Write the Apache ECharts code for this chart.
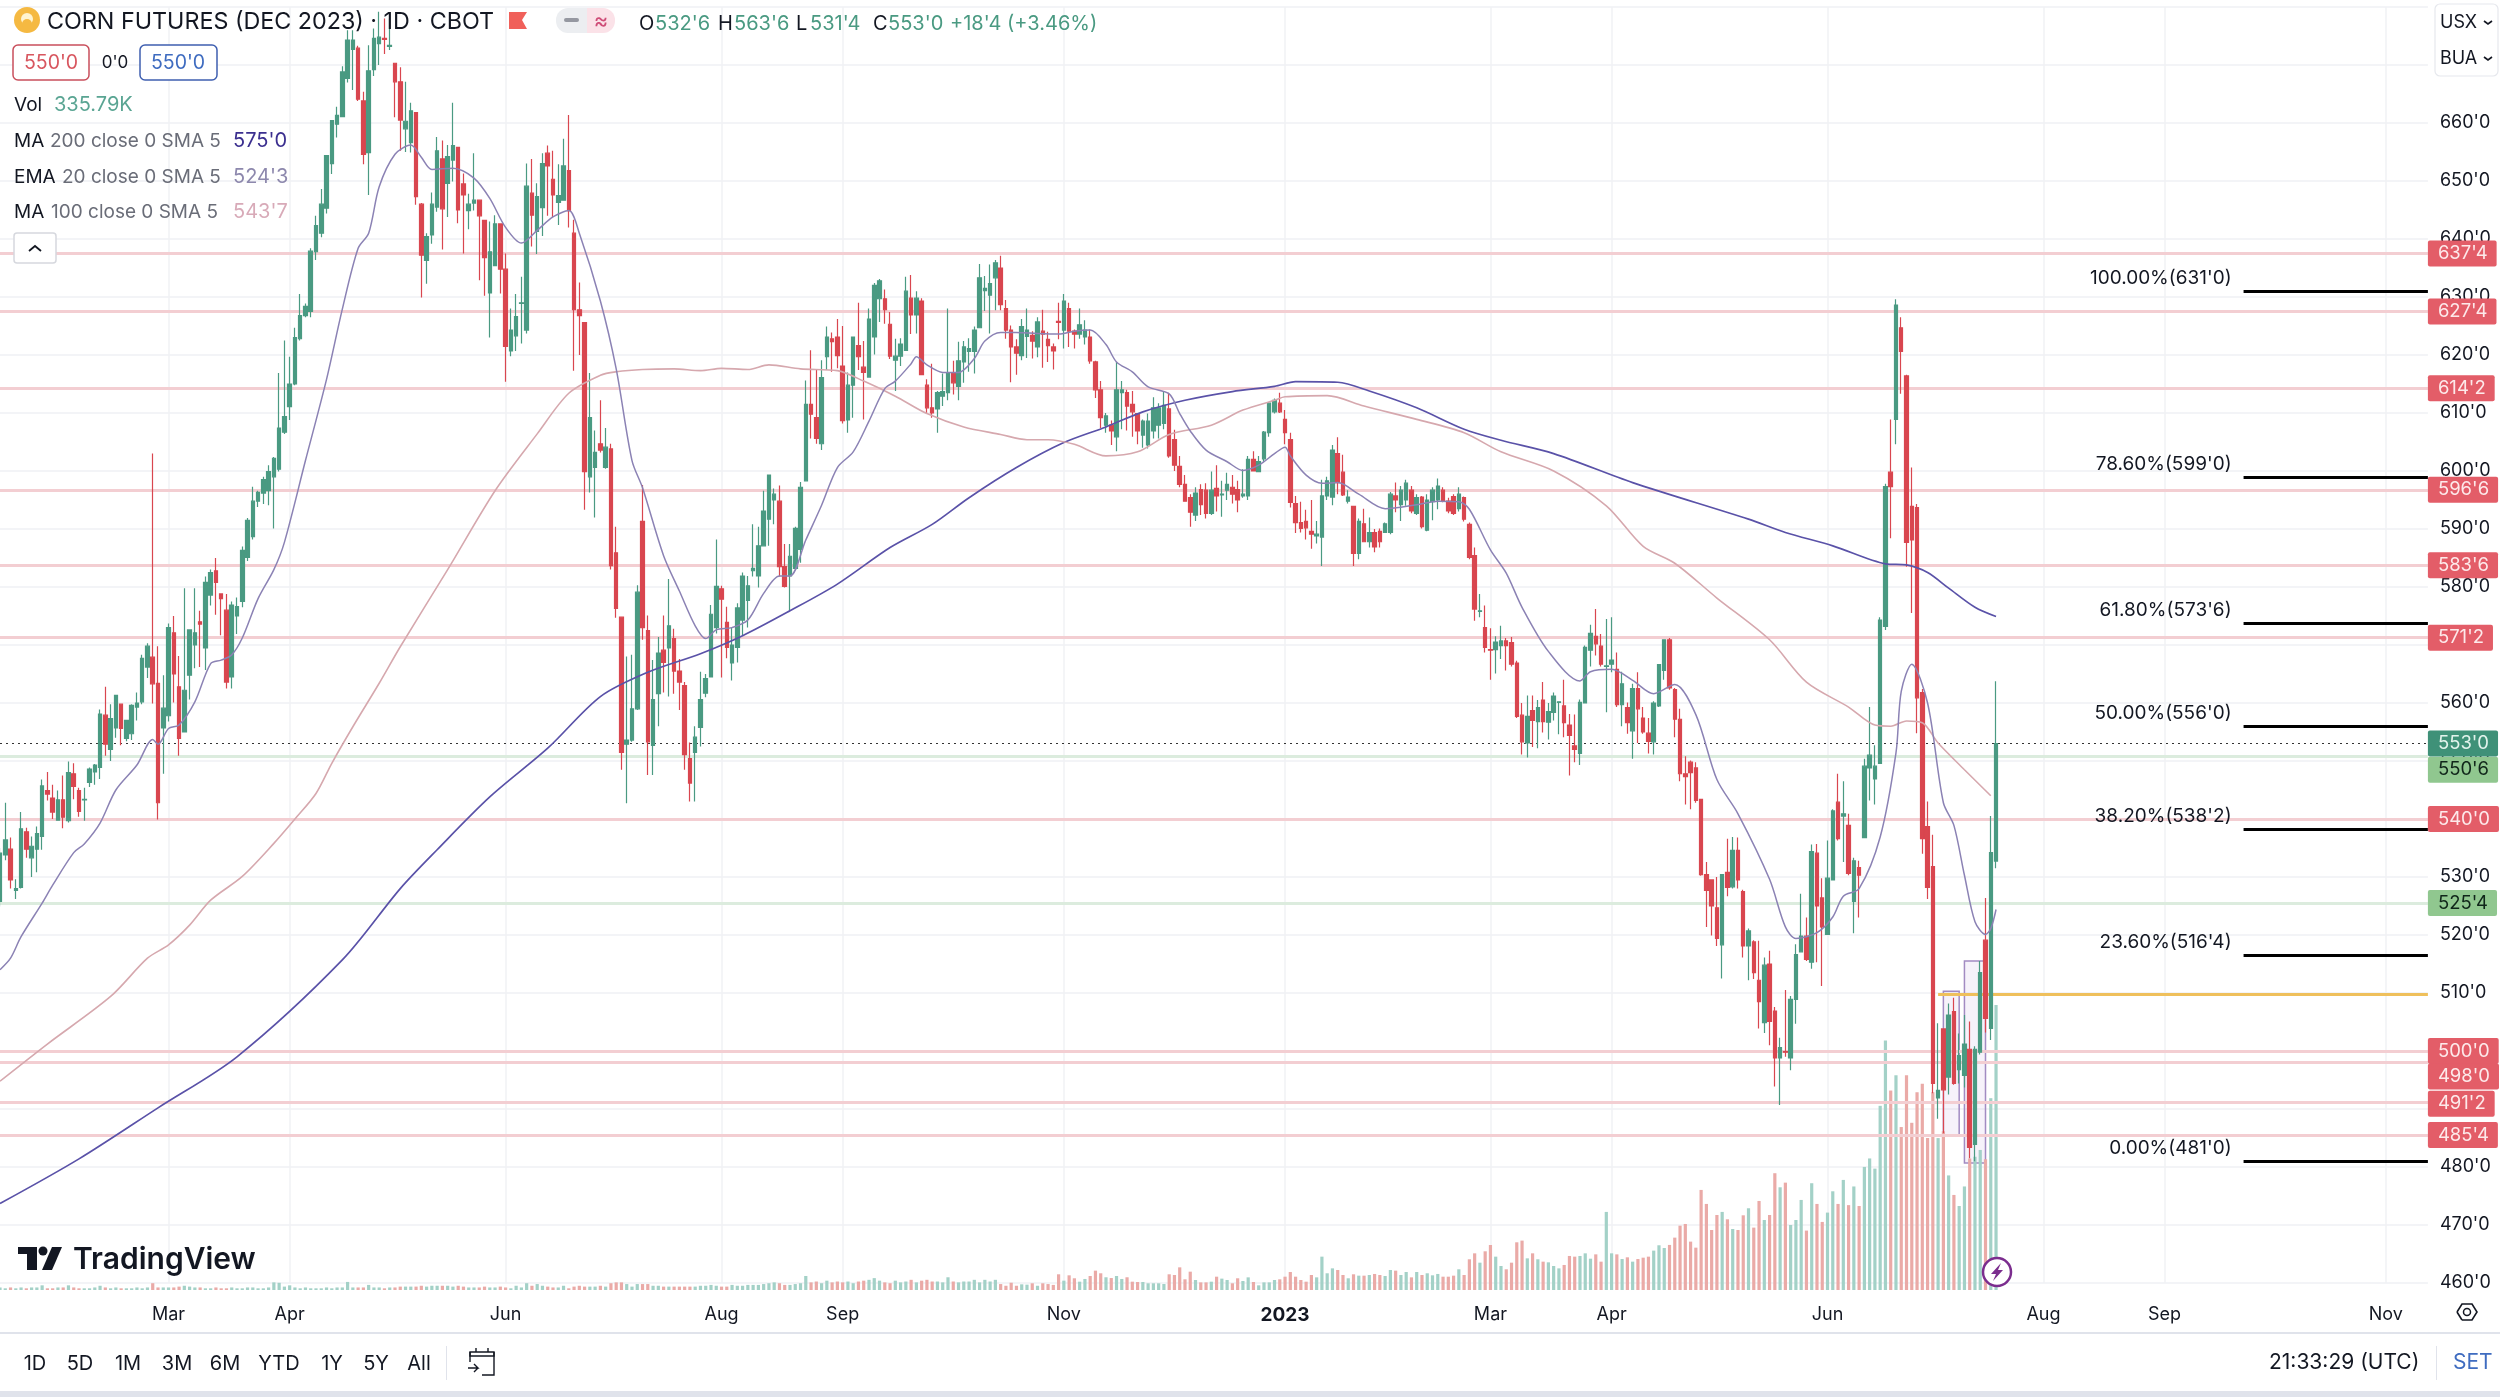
<!DOCTYPE html>
<html><head><meta charset="utf-8"><title>Corn Futures</title>
<style>html,body{margin:0;padding:0;background:#fff}#c{width:2500px;height:1397px}</style>
<script src="https://cdn.jsdelivr.net/npm/echarts@6/dist/echarts.min.js"></script>
</head><body><div id="c"></div>
<script>
const opens=[
525.8,533.8,534.8,527.7,528.2,537.8,533.3,534.8,537,544.9,
543.6,539.8,543.3,539.7,547.8,544.9,543.3,546.3,548.1,548.9,
557.9,552,555.7,559.8,553.9,554.7,559.3,560.2,566.2,567.9,
563.4,555.7,557.8,572.1,562.8,555,564.8,570,574,569.5,
578.6,582.8,578.8,576,564.5,575,577.5,585.1,588.7,594.8,
596.2,596.6,599,600.3,606.7,611.1,615,622.8,626.8,627.5,
637.8,641,645.3,653,659.8,661.1,667.7,672.7,672.9,663.8,
654.9,669.2,673.7,674.6,673.2,670.3,667.1,659,656.6,661.8,
646,636.3,640.7,645.5,653.8,649.6,653.6,655.8,649.5,644.9,
646.2,646.7,643.2,630.7,635.4,642.6,634.8,620.7,623.3,628.9,
624.3,647.9,641.3,645.4,654.8,650.3,646.3,646.7,651.8,641,
627.8,625.6,599,600.6,604.7,600.6,603.8,585.9,574.8,552.9,
553.6,559,591.3,572.5,552.7,561.6,569.1,569.5,571.1,565.5,
563,550.4,551.5,555.8,561.7,564.5,573,579.7,573.9,566.9,
569.6,574.3,577.7,582.8,581.9,587.1,591.7,595,594.8,583.5,
581.9,583.2,586.5,598.3,611.5,609.2,604.7,619.7,622.8,623.1,
618.1,608.8,614.8,621.6,617.9,616.2,623.1,629.7,629.7,625.3,
619.1,619.8,620.8,629.8,626.9,629.3,614.8,610.9,610.7,612.9,
613.5,616.8,614.6,618.8,620.6,620.6,624.7,631.1,630.3,633.3,
635,628,624.3,621.4,619.9,623.2,623.4,621.4,624.1,622.7,
621.4,625.8,624.3,628,624.1,623.6,623.1,623.1,618.8,614,
607.9,607.9,605.9,613.5,613.5,611.5,609.9,606.2,604.5,606.9,
607.9,608.2,610.7,605.4,600.8,597.7,595.4,592.4,596.8,596.7,
592.7,597,595.9,596.7,597.2,596.8,595.7,595.7,602,599.9,
602.1,606.6,610.2,611.7,608.9,605.4,594.4,591.1,591.3,589.6,
588.8,588.6,595.7,595.5,603,599.8,594.8,593.9,585.8,590.9,
587.8,589.4,589.6,589.4,589.4,595.7,594.2,595,596.7,592.7,
595.5,589.8,594.7,595,596.7,594.8,595.6,593.5,595.4,590.8,
585.4,575.8,573,569.2,569.2,569.9,570.7,570.4,566.9,557.9,
553.1,558.7,556.8,560.5,556.7,558.4,560.1,559.5,556.2,552.6,
551.3,560,569.1,571.5,569.8,566.3,566.7,565.8,559.7,559.2,
555.2,562.5,557.4,554.8,553.3,559.5,565.6,570.9,562.3,557.2,
547.8,549.8,548.8,543.4,530.4,529.5,524.7,518.3,530.8,528.3,
534.6,527.5,518.1,518.8,512.2,504.9,515,506.9,498.8,499.9,
498.8,508.9,517.1,519.8,515.3,534.1,526.4,520.1,529.5,542.9,
540.5,538.9,525.8,531.6,536.8,548.8,546.9,549.6,573.2,599.8,
608.9,624.7,616.4,593.9,593.7,561.8,538.7,531.8,491.9,503.8,
495.5,506.8,496.8,495.8,500.3,483.9,499.8,519.1,503.9,532.75];
const closes=[
534.1,536.4,529.5,528,538.3,534.8,535.3,537.5,545.7,544.3,
541.2,543.3,540.3,548,545.6,541.3,543.4,548.6,549.3,558.1,
552.9,557.3,561.3,555.6,557,559.6,560,567.7,569.8,563.3,
542.8,559.1,573,565,553.9,562.2,572.6,572.1,573.6,580.8,
582.5,580.8,578,563.6,576.9,576.6,586.3,591.5,594.8,596.3,
598.5,599.9,602.2,607.4,609.4,615,623,626.8,628.4,637.9,
642.3,646,654.4,660.4,661.3,668.8,674.3,674.3,664.1,654.6,
669,674.6,674.8,674.4,673.4,667.1,660.5,660.3,662.1,647.3,
637.2,640.4,646,655.2,645.2,654.2,656.1,645,647.6,646,
646.7,644,636.8,637.8,642.6,634.8,621.5,624.3,626.6,629,
649.1,644.1,647.3,653,652.6,647.6,647.5,652.6,644.9,627.8,
626.8,599.9,609.2,603.2,603.6,604.1,583.7,576.3,551.5,553.6,
559,579.1,573,553.3,560.6,568.6,567,573.3,565.5,563.6,
551.1,546.2,554.1,560.6,564.2,575.3,580.1,577.9,569.6,570,
576.4,581.9,580.2,583.2,587.1,593.1,599.3,596,583.5,580.1,
585.3,590.1,597.2,611.5,609.8,605.6,616.1,623.1,622.3,619.9,
608.7,614.8,623.1,619.7,617,626.2,632,632.8,627.8,619.8,
619.8,621.9,631,626.9,629.8,616.6,610.9,610,613.5,613.7,
616.8,615.2,619,621.4,621.1,624.3,633.3,631.5,632.3,635.9,
628.7,624.3,621.4,620.3,624.9,624.3,622.4,625.7,623.6,621.6,
620.7,625.6,629.3,624.1,623.6,625.2,624.3,619,614,609.2,
609.5,606.9,614,614,611.2,610.2,606.9,608.6,608.6,610.9,
610.9,611.3,602.6,601,597.7,594.8,592.9,596.2,594.2,592.7,
596.7,595.7,596,597.7,596,595,596,602,600,601.6,
606.7,611.7,612.2,610.2,606.6,594.6,591.1,590.1,590.2,589.1,
589.1,595.7,598.3,603.6,598,595.9,595.5,585.8,591.3,587.8,
589.4,586.9,587.8,590.9,596,595,596.7,597.9,593.1,595.4,
590.4,595,596.7,597.4,594.8,593.1,592.7,596,591.7,585.1,
576.2,575.9,569.6,569.1,570.5,570.7,569.9,566.7,557.7,553.3,
557.7,557,559.2,556.8,558.5,561.2,560.2,556.6,554.4,552,
560.1,569.6,572,570.2,566.7,566.4,567.4,559.7,563.3,556.6,
562.5,559,555,553.4,560,566.6,570.9,562.6,557.2,547.8,
547.3,548,543.2,530.4,527.7,525,519.4,530.4,528.2,534.6,
529.5,518.1,520.7,513.5,508.5,514.8,505.1,498.8,500.6,499.8,
508.9,516.6,519.8,515.8,534.4,525,521.4,529.8,541.4,536.6,
540.9,530.6,532.8,530.3,549.1,551,549.1,574.3,597.3,597.3,
628.6,620.6,587.7,588.1,560.9,536.6,528.2,494.4,493.2,493.3,
506.2,494.4,499.2,501.2,483.4,500.3,513.5,505.6,534.2,553];
const lows=[
524.9,532.9,528,526.2,528,533.3,530,530.8,534.7,543.2,
540,539.8,538.4,539.4,543.4,540.4,539.7,545.5,545.9,546.9,
550.9,550,554,552.7,553.4,553.6,557,559.8,564.3,559.9,
539.9,547.8,556.8,560.1,550.9,554.9,560.6,566,566.2,565.7,
576.8,575.2,571.7,562.5,562.5,571.9,576.5,584.5,588.2,593.8,
594.3,594.1,590.1,599.9,606.4,608.8,614.8,622.5,626.5,626.5,
636.4,640.3,644.4,651.2,657.5,661.1,667,665.7,663.8,652.9,
647.6,668.1,670,671.9,672.6,661,655.2,655,654.9,645.9,
629.9,632.3,639.2,644.7,638.2,643.8,649.9,642.7,637.5,641.7,
644.9,632.9,630.2,623,635.4,630.6,615.4,619.8,620.7,622,
623.7,638.7,637.4,640.5,644,643.8,642.4,646.6,642,617.3,
620,593.3,596.3,592,603.2,600.4,583,574.7,548.5,542.7,
553.3,558.8,570.9,547.6,547.6,556,561.8,561.1,561.6,558.8,
548.5,543,543,552.5,561,564.4,572,564.4,567.7,563.9,
567,571.6,573,581.8,579.9,587.1,587.1,590.8,581.8,579.9,
575.9,582.9,584.2,598.3,605.6,604.7,603.6,617.4,617.1,617.7,
608.2,606.6,609.2,617.4,608.9,616.2,620.1,625.7,625.4,619.3,
613.8,618.1,620.8,623.6,623.7,616.6,609.9,609.2,606.6,611.2,
612.2,613.2,612.2,615.2,617.1,616.8,624.7,627.6,623.7,627.7,
627.7,622.8,615.3,616.6,619.1,619.5,619.4,619.6,617.8,618.8,
617.5,622.7,621.1,621.4,621.1,622.8,621.8,618.5,612.6,607.4,
606.6,604.5,603.4,607.2,607,605.9,604.6,604,603.9,605.6,
605.6,607.2,602.3,600,597.2,594.7,590.4,591.4,592.4,591.8,
592.4,593,592.1,595,594.4,592.9,595.4,595,599.9,599.9,
601.6,605.9,609.9,610,604.6,593.7,589.3,589.4,588.2,586.6,
587.5,583.6,595,594.1,596,595.7,594.4,583.6,584.8,587.8,
586.8,586,586.8,589.3,589.1,592.9,591.4,594,592.7,592.4,
590.1,589.6,591.5,593.4,594.6,592.7,592.4,593,591.3,584.8,
574.2,574.8,568.7,564,565.1,567.6,565.6,566.3,557.4,551.1,
550.6,552.4,552.2,554.9,553.7,557,554.6,554.1,547.5,549.8,
549.3,560,566.3,568.2,566.3,558.4,565.3,559.3,556,554.7,
550.4,553.1,554.7,551.3,551.1,559.3,564,562.3,554.1,546.5,
542.5,541.7,542.8,530.2,521.4,519.9,518.1,512.5,526.7,528,
528,516.1,512.2,512.4,503.9,503.1,501,493.9,490.7,499,
496.7,504.7,517,515.5,514.2,515.3,511.2,520.1,529.5,536.3,
532.6,530.3,520.3,523,536.8,543.2,542.5,549.6,572.6,588.4,
604.6,613.3,583.5,575.5,554.8,534,526.2,492.7,488.3,485.8,
492.5,494.2,494.4,493.7,481.5,481,499.4,503.2,501.9,531.5];
const highs=[
535,542.8,536.8,529.6,541.2,538.5,537,538.7,546.8,548.1,
545.9,544.9,547.5,549.9,549.6,545.4,545.4,548.9,549.5,558.9,
562.8,559.8,561.3,559.8,557,559.8,561.8,568.3,570.3,603,
569.8,564.8,573.7,575,568.1,579.8,572.6,579.8,575.9,581.8,
583,585,578.9,578.8,577.5,578.2,587,591.9,597.3,596.6,
599,601,602.4,616.9,622.5,619.7,624.7,630.5,628.9,638.4,
644,648.6,654.4,660.5,662.8,669.8,676,676,673.3,665.4,
673.4,676.3,679.2,678,678,670.3,669.6,667.1,663.5,661.8,
646.2,641,648,657.6,657,656.2,663.5,655.9,651.3,647.8,
654.8,646.8,643.3,643,644.1,642.6,637.5,628,630.5,633.5,
653,653.8,649.6,654.8,656.1,655.2,652.9,657.3,661.4,643.3,
632.5,625.6,616.9,607,612.2,607.4,604.7,590.4,574.8,568,
568.3,580.3,597.6,575.1,567.4,571.4,575.1,581.4,572.8,567.6,
563.6,553.2,556,565.4,565,576.9,588.2,580.2,576.6,573,
577.2,582.5,581.9,590.8,590.4,596.6,599.3,597,597.5,587.4,
587.4,590.4,598.1,615.6,620.8,617.4,619.1,624.9,623.9,626.2,
625,617,623.2,629,622.4,628,632.4,633.1,631.3,627.4,
622.8,622.9,633.5,633.8,631,629.8,615.8,618.5,613.8,616.8,
628,619,622.3,622.4,622.9,624.9,635.7,633.6,635.6,636.4,
637.1,629.5,625.1,622.7,626.2,628,624.1,626.5,627.8,624,
622,629,630.5,629,624.4,628,626,624.4,619,615.5,
610,608.7,618.8,615.5,614,613.8,610,608.9,609.9,612.7,
611.7,613.8,613.5,607.1,602.6,599.3,596,597.2,597.7,597.9,
599.9,601,598.3,599.7,599.3,598.3,600.3,602.6,603.4,602.6,
606.9,611.9,612.5,613.5,610.5,606.6,595.7,594.7,593.3,595,
591.4,598.5,599,604.5,605.8,602.8,596.7,594,591.8,593.5,
592,590,590.1,591.1,596.4,598,597.4,598.5,597.4,596,
595.7,596,597.2,598.7,597.2,595.4,596,597.2,595.6,591.1,
586.8,578.8,576.8,572.9,571.5,573.3,571.2,571.4,567.3,560,
561.3,561.3,560.5,563.6,560,561.8,560.3,564,558.1,558,
560.6,569.9,573.5,576.2,571.9,574.5,574.8,568.7,565.4,560.1,
563.3,565.3,559.3,557.4,560.3,566.7,570.9,571.2,562.6,559,
550.8,550.1,549.8,543.5,532.6,529.6,530,530.5,536.6,536.9,
536.8,527.8,521.1,519.1,519,516.1,517.3,507.6,502.3,510.5,
509.5,518.4,527.1,523,535.6,535.7,529.8,536.3,541.7,547.8,
546.5,540.9,533.3,532.8,550.4,559.3,552.7,574.8,597.8,608.9,
629.6,626.5,616.6,600.6,594.3,562.4,543,537.3,504.8,503.9,
508.2,509.2,503,506.2,505.1,500.8,515.5,526.4,540.5,563.75];
const volumesK=[
3,2,3,2,3,2,3,3,5.5,2,
2,3,3,5.5,3,2,2,2,3,5,
3,2,3,2,2,2,3,2,3,8,
3,3,3,3,4,5,4,3,3,2,
2,3,2,2,3,2,2,3,3,2,
2,3,9,8.5,4,5.5,3,2,3,2,
2,2,3,2,3,3,9.5,3,3,3,
6,3,3,2,3,3,4,4,4,4,
5,4,5,5,5,5,4,5,4,3,
3,3,4,3,3,4,3,2,5,3,
8,5,7,5,4,3,3,5,2,4,
5,4,4,4,5,4,8,9,9,7,
4,7,7,7,5,5,4,4,4,4,
4,4,4,5,5,6,5,4,4,6,
5,5,6,6,6,7,8,9,8,6,
6,7,8,16.5,9,10,8,11,9,10,
9,10,8,10,11,12,14,11,9,8,
11,9,10,12,9,11,12,10,10,9,
15,10,9,10,10,12,9,12,10,12,
7,5,8.6,5,6.7,6.3,7.9,5,7.9,7,
6,18.5,11,17.3,13.8,9.8,13,16.5,22.8,19.7,
15,14.1,16.5,13,15,9.8,9.4,9.4,7.9,7.9,
7.9,7.1,18.5,17.7,26.7,12.6,21.6,11.8,9,9,
9.8,15.7,13.4,11.8,7.9,13.8,10.6,14.9,9.4,5.5,
9,9,11.8,12.6,15.7,21.2,15.7,11.8,9.8,17.7,
14.9,39.3,19.7,25.5,23.6,17.7,13.8,18.5,16.9,16.9,
17.7,18.9,17.7,16.5,23.6,22.8,17.7,21.2,14.9,21.2,
17.7,19.7,17.3,18.9,15.7,15.7,16.9,24.4,17.7,36.2,
43.2,32.2,45.6,53,39.3,28.3,24.4,32.2,56.2,58.2,
37.3,43.2,36.2,33.4,32.6,28.3,25.5,29.5,40.1,39.3,
40.1,43.2,36.9,42,33.4,92,43.2,42,36.5,38.5,
33.4,36.5,38.1,39.3,46.4,52.7,49.5,53.1,61.7,75.8,
77.8,57,49.9,117.9,101.4,70.7,88.4,92,83.3,71.9,
70.7,88,96.3,73.5,104.9,82.5,88.4,137.6,121,126.5,
76.6,82.5,106.1,70,125.8,101.4,80.2,91.2,116.3,101.4,
129.7,100,122,99,145,155,143,217,294,235,
253,192,253,197,233,243,179,233,179,187,
135,112,99,122,155,157,165,154,226,335.79];
const emaPoints=[[0,514],[1.6,516],[4,519.7],[8,525.5],[9.5,528.6],[14,534.2],[16,535.7],[19,539.3],[22,545],[26,549.3],[29,553.7],[30,552.9],[32,555.6],[34,556.2],[37,560.2],[40,566.8],[42,567.4],[44,568.3],[46,571.2],[49,578],[52,583],[54,587.7],[58,601.8],[62,615.8],[65,627.9],[68,638.4],[70,641],[72,649],[75,654.6],[78,656.2],[80,654.1],[82,652],[86,652.2],[90,650.5],[93,647],[96,642],[99,639.3],[102,641.5],[105,643.8],[108,644.9],[110,641],[114,629.3],[117,617.6],[120,601.8],[122,597.1],[126,585.4],[129,579.3],[132,573.3],[134,571.1],[136,572.6],[139,573],[142,574.3],[145,578.9],[148,581.9],[150,581.9],[153,588.1],[156,594.1],[159,600.6],[162,603.3],[165,608.6],[168,614.2],[170,615.5],[173,618.5],[174,619.7],[176,618.3],[179,617],[182,617],[185,619.4],[187,622.4],[190,623.9],[193,623.9],[197,623.7],[201,623.6],[204,624.1],[207,624.3],[210,621.8],[212,618.8],[215,617.1],[218,614.5],[222,613.3],[224,609.9],[226,606.9],[229,603.6],[233,601.6],[236,600.1],[239,601],[242,603],[244,604.1],[245,602.6],[248,599.3],[251,597.9],[254,598],[258,596],[263,593.5],[269,594.2],[273,594.8],[277,594.7],[279,593.4],[283,586.4],[286,582.4],[289,576.5],[294,568.9],[300,563.8],[302,565.4],[306,565.8],[310,563.9],[314,561.6],[318,563.2],[322,558],[326,546.8],[330,540.9],[336,529.6],[339,521.4],[341,519.4],[345,520.4],[348,523.1],[350,526.7],[353,528],[357,536.9],[360,551.4],[361,562],[363,566.7],[366,560],[369,542.8],[371,538.9],[373,530.3],[375,522.3],[377,520.1],[378,521.1],[379,524.4]];
const ma100Points=[[0,494.8],[9,501.2],[21,509.4],[28,516],[32,518.3],[36,521.7],[40,526],[46,530.1],[52,535.8],[56,540],[60,544.4],[63,549.6],[67,555.9],[72,563.4],[76,569.7],[85,583],[94,596.6],[102,606.4],[108,613.4],[114,616.5],[117,617.1],[122,617.5],[128,617.6],[133,617.3],[137,617.7],[142,617.5],[146,618.3],[152,617.6],[159,617.3],[164,615.5],[170,612.9],[176,609.9],[183,607.6],[190,606.3],[195,605.4],[199,605.4],[204,604.6],[210,602.6],[216,603.3],[222,606.3],[230,607.9],[236,610.5],[242,612.2],[244,612.8],[252,613],[259,611.2],[269,608.9],[278,606.6],[285,603.3],[295,600],[305,594],[312,587],[318,584.1],[326,578.1],[336,570.9],[343,563.6],[351,559.3],[356,556.2],[359,556],[362,556.9],[365,556.6],[368,553.1],[373,548.5],[378,544]];
const ma200Points=[[0,473.7],[15,481.4],[30,490.2],[45,499],[65,515.7],[76,528],[83,534.7],[93,543.8],[104,552.2],[114,561.1],[123,565.3],[133,568.5],[141,571.6],[150,575.9],[159,580.5],[169,586.8],[177,590.8],[184,595.4],[193,600.6],[202,604.9],[210,607.6],[217,610.2],[225,612.2],[234,613.7],[242,614.6],[246,615.4],[254,615.3],[260,613.8],[269,610.9],[278,607.2],[285,605.3],[295,603],[310,598],[332,591.7],[339,589.4],[348,587.1],[358,584],[362,583.8],[366,582.5],[370,579.8],[375,576.5],[379,574.9]];
const redLevels=[637.5,627.5,614.25,596.75,583.75,571.25,540,500,498,491.25,485.5];
const redTags=["637'4","627'4","614'2","596'6","583'6","571'2","540'0","500'0","498'0","491'2","485'4"];
const redTagShift=[0,0,0,0,0,0,0,0,14,2,0];
const greenLevels=[550.75,525.5];
const greenTags=["550'6","525'4"];
const greenTagShift=[13,0];
const lastPrice=553;
const lastTag="553'0";
const fibValues=[631,599,573.75,556,538.25,516.5,481];
const fibTexts=["100.00%(631'0)","78.60%(599'0)","61.80%(573'6)","50.00%(556'0)","38.20%(538'2)","23.60%(516'4)","0.00%(481'0)"];
const fibStart=426, lineEnd=461;
const yellowLevel=509.7, yellowStart=368;
const boxes=[[369,372,510.3,485.3],[373,377,515.5,480.7]];
const tickIndex=[32,55,96,137,160,202,244,283,306,347,388,411,453];
const tickNames=['Mar','Apr','Jun','Aug','Sep','Nov','2023','Mar','Apr','Jun','Aug','Sep','Nov'];
const slotCount=462;
const priceTicks={min:460,max:680,step:10};
const rangeButtons=['1D','5D','1M','3M','6M','YTD','1Y','5Y','All'];

const GREEN='#4a9a82',RED='#d9464f';
const FONT='Inter, "Noto Sans", sans-serif';
const categories=new Array(slotCount).fill('');
tickIndex.forEach((k,n)=>{categories[k]=tickNames[n];});
const candles=opens.map((o,k)=>[o,closes[k],lows[k],highs[k]]);
const volumes=volumesK.map((v,k)=>({value:v,itemStyle:{color:closes[k]>=opens[k]?'#a3d1c7':'#eaaaa7'}}));

function levelLine(v,color,width,tag,shift,bg,fg){
  return {yAxis:v,lineStyle:{color:color,width:width,type:'solid',opacity:1},
    label:{show:true,position:'end',distance:0,formatter:tag,color:fg,fontSize:18.5,fontFamily:FONT,backgroundColor:bg,
      padding:[5,9,2,10],lineHeight:19,borderRadius:2,offset:[0,shift]}};
}
const markData=[];
redLevels.forEach((v,k)=>markData.push(levelLine(v,'#f3ced2',3,redTags[k],redTagShift[k],'#e35d68','#fde9ea')));
greenLevels.forEach((v,k)=>markData.push(levelLine(v,'#dcecde',3,greenTags[k],greenTagShift[k],'#90c78f','#10261a')));
const lastLine=levelLine(lastPrice,'#333',1,lastTag,0,'#3f9178','#e2f3ec');
lastLine.lineStyle.type=[2,4];
markData.push(lastLine);
fibValues.forEach((v,k)=>{
  markData.push([{coord:[fibStart,v],lineStyle:{color:'#000',width:3,type:'solid',opacity:1},
    label:{show:true,position:'start',distance:12,formatter:fibTexts[k],color:'#131722',fontSize:19,fontFamily:FONT,offset:[0,-13]}},
    {coord:[lineEnd,v]}]);
});
markData.push([{coord:[yellowStart,yellowLevel],lineStyle:{color:'#efc05c',width:3,type:'solid',opacity:1},label:{show:false}},{coord:[lineEnd,yellowLevel]}]);

function T(x,y,text,o){o=o||{};return {type:'text',x:x,y:y,z:o.z||50,silent:true,style:{text:text,fill:o.c||'#131722',font:(o.w||'400')+' '+(o.s||18)+'px '+FONT,textAlign:o.a||'left',textVerticalAlign:'middle'}};}
function R(x,y,w,h,o){o=o||{};return {type:'rect',z:o.z||49,silent:true,shape:{x:x,y:y,width:w,height:h,r:o.r||0},style:{fill:o.f||'none',stroke:o.st||null,lineWidth:o.lw||1}};}
function P(pts,o){o=o||{};return {type:o.closed===false?'polyline':'polygon',z:o.z||50,silent:true,shape:{points:pts},style:{fill:o.closed===false?null:(o.f||'#000'),stroke:o.st||null,lineWidth:o.lw||1}};}
function C(cx,cy,r,o){o=o||{};return {type:'circle',z:o.z||50,silent:true,shape:{cx:cx,cy:cy,r:r},style:{fill:o.f||'none',stroke:o.st||null,lineWidth:o.lw||1}};}

const ui=[
 C(27,20,13,{f:'#f5b942'}),C(27,19,6,{f:'#fff3cf'}),C(27,24,5,{f:'#f5b942'}),
 T(47,22,'CORN FUTURES (DEC 2023) · 1D · CBOT',{s:23.3}),
 P([[509,12],[527,12],[522,20],[527,29],[509,29]],{f:'#f0605a'}),
 R(556,8,31,25,{f:'#eceef1',r:[12,0,0,12]}),R(587,8,28,25,{f:'#fbe2e8',r:[0,12,12,0]}),
 R(564,18,15,4,{f:'#9598a1',r:2}),T(601,21,'≈',{s:22,c:'#cf4d78',a:'center'}),
 T(639,24,'O',{s:20}),T(655,24,"532'6",{s:20,c:GREEN}),
 T(718,24,'H',{s:20}),T(734,24,"563'6",{s:20,c:GREEN}),
 T(796,24,'L',{s:20}),T(810,24,"531'4",{s:20,c:GREEN}),
 T(873,24,'C',{s:20}),T(888,24,"553'0",{s:20,c:GREEN}),
 T(950,24,"+18'4 (+3.46%)",{s:20,c:GREEN}),
 R(13,45,76,35,{f:'#fff',st:'#c94f5c',lw:1.5,r:5}),T(51,63,"550'0",{s:19.5,c:'#d8565f',a:'center'}),
 T(115,63,"0'0",{s:17,a:'center'}),
 R(140,45,77,35,{f:'#fff',st:'#3f5fb0',lw:1.5,r:5}),T(178,63,"550'0",{s:19.5,c:'#3f6cc0',a:'center'}),
 T(14,105,'Vol',{s:19}),T(54,105,'335.79K',{s:20,c:'#5aa593'}),
 T(14,141,'MA',{s:19}),T(50,141,'200 close 0 SMA 5',{s:19,c:'#6a6d78'}),T(233,141,"575'0",{s:20,c:'#3b2f8f'}),
 T(14,177,'EMA',{s:19}),T(62,177,'20 close 0 SMA 5',{s:19,c:'#6a6d78'}),T(233,177,"524'3",{s:20,c:'#8d88ad'}),
 T(14,212,'MA',{s:19}),T(51,212,'100 close 0 SMA 5',{s:19,c:'#6a6d78'}),T(233,212,"543'7",{s:20,c:'#d8aab8'}),
 R(14,233,42,30,{f:'#fff',st:'#d6d8de',lw:1.5,r:3}),
 P([[29,251],[35,246],[41,251]],{closed:false,st:'#131722',lw:1.8}),
 R(2435,4,63,72,{f:'#fff',st:'#e6e8ed',lw:1.2,r:5}),
 T(2440,23,'USX',{s:18}),T(2440,59,'BUA',{s:18}),
 P([[2484,21],[2488,24],[2492,21]],{closed:false,st:'#131722',lw:1.6}),
 P([[2484,57],[2488,60],[2492,57]],{closed:false,st:'#131722',lw:1.6}),
 R(18,1247,19,7,{f:'#131722'}),R(27,1254,10,16,{f:'#131722'}),C(43,1251,4.5,{f:'#131722'}),
 P([[52,1247],[62,1247],[52,1270],[42,1270]],{f:'#131722'}),
 T(73,1260,'TradingView',{s:30,w:'600'}),
 C(1997,1272,14,{f:'#fff',st:'#7b2d8e',lw:2.5}),
 P([[2001,1263],[1991,1274],[1996,1274],[1993,1281],[2003,1270],[1998,1270]],{f:'#7b2d8e'}),
 R(0,1332,2500,2,{f:'#e0e3eb'}),
 P([[2457,1312],[2462,1304],[2472,1304],[2477,1312],[2472,1320],[2462,1320]],{closed:false,st:'#131722',lw:1.6}),
 P([[2462,1320],[2457,1312]],{closed:false,st:'#131722',lw:1.6}),
 C(2467,1312,3.5,{st:'#131722',lw:1.5}),
 R(446,1346,1,34,{f:'#e0e3eb'}),
 R(470,1352,24,4,{f:'none',st:'#131722',lw:1.4}),
 P([[470,1352],[470,1362]],{closed:false,st:'#131722',lw:1.4}),
 P([[494,1352],[494,1375],[482,1375]],{closed:false,st:'#131722',lw:1.4}),
 P([[476,1348],[476,1352]],{closed:false,st:'#131722',lw:1.4}),
 P([[488,1348],[488,1352]],{closed:false,st:'#131722',lw:1.4}),
 P([[468,1368],[478,1368],[474,1364],[478,1368],[474,1372]],{closed:false,st:'#131722',lw:1.4}),
 T(2269,1363,'21:33:29 (UTC)',{s:21}),
 R(2436,1346,1,34,{f:'#e0e3eb'}),
 T(2453,1363,'SET',{s:21,c:'#3f6cc0'}),
 R(0,1391,2500,6,{f:'#e0e3eb'})
];
const btnX=[35,80,128,177,225,279,332,376,419];
rangeButtons.forEach((b,k)=>ui.push(T(btnX[k],1364,b,{s:20,a:'center'})));

const chart=echarts.init(document.getElementById('c'),null,{renderer:'canvas'});
const showTick=(i,v)=>v!=='';
chart.setOption({
  animation:false,backgroundColor:'#fff',
  grid:[{left:-0.1,width:2428,top:7,height:1276},{left:-0.1,width:2428,top:1005,height:285}],
  xAxis:[
   {type:'category',gridIndex:0,data:categories,boundaryGap:false,axisLine:{show:false},axisTick:{show:false},axisLabel:{show:false},
    splitLine:{show:true,interval:showTick,lineStyle:{color:'#f1f2f5',width:1.5}}},
   {type:'category',gridIndex:1,data:categories,boundaryGap:false,axisLine:{show:false},axisTick:{show:false},
    axisLabel:{interval:showTick,margin:15.5,color:'#131722',fontSize:18,fontFamily:FONT,
      formatter:v=>v==='2023'?'{b|2023}':v,rich:{b:{fontWeight:700,fontSize:19,fontFamily:FONT,color:'#131722'}}},
    splitLine:{show:false}}
  ],
  yAxis:[
   {type:'value',gridIndex:0,position:'right',min:priceTicks.min,max:priceTicks.max,interval:priceTicks.step,
    axisLine:{show:false},axisTick:{show:false},
    axisLabel:{margin:12,color:'#131722',fontSize:18,fontFamily:FONT,padding:[5,0,0,0],formatter:v=>v>660?'':v+"'0"},
    splitLine:{lineStyle:{color:'#f3f4f7',width:2}}},
   {type:'value',gridIndex:1,min:0,max:335.79,show:false}
  ],
  series:[
   {type:'bar',name:'Vol',xAxisIndex:1,yAxisIndex:1,data:volumes,barWidth:3.2,z:1,silent:true},
   {type:'candlestick',name:'Corn',xAxisIndex:0,yAxisIndex:0,data:candles,barWidth:4,z:3,silent:true,
    itemStyle:{color:GREEN,color0:RED,borderColor:GREEN,borderColor0:RED,borderWidth:1.2},
    markLine:{silent:true,symbol:'none',precision:2,z:2,animation:false,data:markData},
    markArea:{silent:true,itemStyle:{color:'rgba(150,110,200,0.09)',borderColor:'#a28bc2',borderWidth:1.5},
      data:boxes.map(b=>[{coord:[b[0],b[2]]},{coord:[b[1],b[3]]}])}},
   {type:'line',name:'MA 200',data:ma200Points,showSymbol:false,smooth:0.3,z:4,silent:true,lineStyle:{color:'#5a52a8',width:1.7}},
   {type:'line',name:'MA 100',data:ma100Points,showSymbol:false,smooth:0.3,z:4,silent:true,lineStyle:{color:'#d6a8ae',width:1.6}},
   {type:'line',name:'EMA 20',data:emaPoints,showSymbol:false,smooth:0.3,z:4,silent:true,lineStyle:{color:'#8b82b4',width:1.5}}
  ],
  graphic:{elements:ui}
});
</script></body></html>
